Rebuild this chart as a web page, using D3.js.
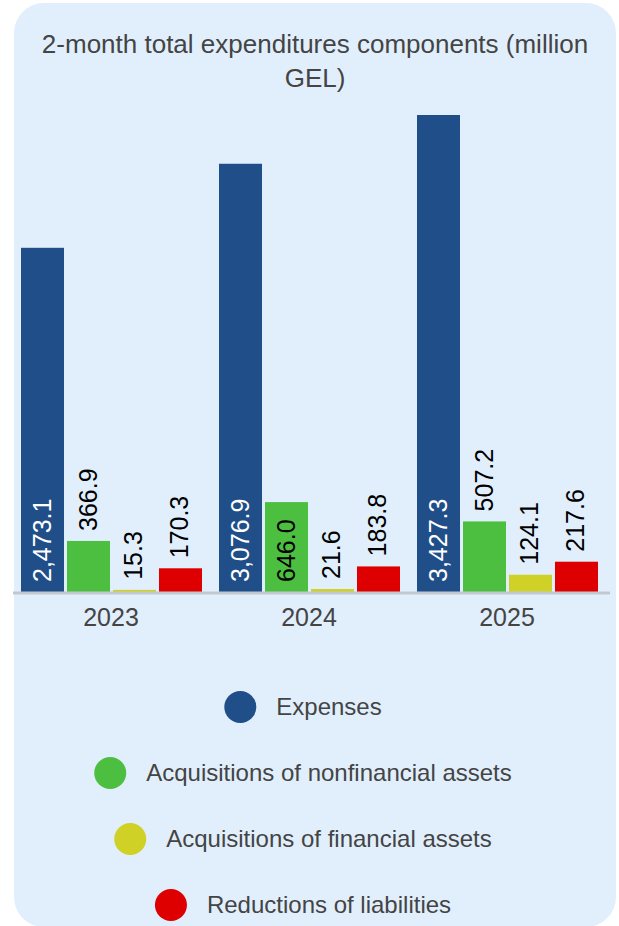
<!DOCTYPE html>
<html>
<head>
<meta charset="utf-8">
<script src="https://cdn.jsdelivr.net/npm/d3@7"></script>
<style>
  html, body { margin: 0; padding: 0; background: #fff; }
  text { font-family: Arial, "Liberation Sans", sans-serif; }
</style>
</head>
<body>
<div class="chart"></div>
<script>
var years = ['2023', '2024', '2025']
var series = ['Expenses', 'Acquisitions of nonfinancial assets', 'Acquisitions of financial assets', 'Reductions of liabilities']
var expenses = [2473.1, 3076.9, 3427.3]
var nonfinancial = [366.9, 646.0, 507.2]
var financial = [15.3, 21.6, 124.1]
var liabilities = [170.3, 183.8, 217.6]
var colors = ['#1f4e89', '#4cbf40', '#cfd126', '#de0000']

var values = [expenses, nonfinancial, financial, liabilities]
var rows = []
years.forEach((y, i) => {
    series.forEach((s, j) => {
        rows.push({ year: y, name: s, value: values[j][i], k: j })
    })
})

var W = 619, H = 926
var svg = d3.select('.chart')
    .append('svg')
    .attr('width', W)
    .attr('height', H)

// panel
svg.append('rect')
    .attr('x', 14).attr('y', 3)
    .attr('width', 602).attr('height', 924)
    .attr('rx', 30)
    .attr('fill', '#e1effd')

// title
var title = svg.append('text')
    .attr('text-anchor', 'middle')
    .attr('fill', '#444')
    .style('font-size', '26px')
title.append('tspan').attr('x', 315).attr('y', 53).text('2-month total expenditures components (million')
title.append('tspan').attr('x', 315).attr('y', 87).text('GEL)')

var base = 592
var x0 = d3.scaleBand().domain(years).range([12, 606])
var x1 = d3.scaleBand().domain(series).range([9, 190]).paddingInner(0.065)
var y = d3.scaleLinear().domain([0, 3427.3]).range([base, 115])

var g = svg.selectAll('g.grp')
    .data(rows)
    .enter()
    .append('g')
    .attr('transform', d => 'translate(' + (x0(d.year) + x1(d.name)) + ',0)')

g.append('rect')
    .attr('y', d => y(d.value))
    .attr('width', x1.bandwidth())
    .attr('height', d => base - y(d.value))
    .attr('fill', d => colors[d.k])

// value labels, rotated
var fmt = d3.format(',.1f')
g.append('text')
    .style('font-size', '25px')
    .attr('dominant-baseline', 'central')
    .text(d => fmt(d.value))
    .each(function (d) {
        var len = this.getComputedTextLength()
        var h = base - y(d.value)
        var inside = len + 20 < h
        var cx = x1.bandwidth() / 2 - 1
        var cy = inside ? base - 10 : y(d.value) - 10
        d3.select(this)
            .attr('transform', 'translate(' + cx + ',' + cy + ') rotate(-90)')
            .attr('fill', inside && d.k == 0 ? '#fff' : '#000')
    })

// axis line
svg.append('line')
    .attr('x1', 13).attr('x2', 610)
    .attr('y1', base + 1).attr('y2', base + 1)
    .attr('stroke', '#c3c8d0')
    .attr('stroke-width', 3)

svg.selectAll('text.year')
    .data(years)
    .enter()
    .append('text')
    .attr('class', 'year')
    .attr('x', d => x0(d) + x0.bandwidth() / 2)
    .attr('y', 626)
    .attr('text-anchor', 'middle')
    .attr('fill', '#444')
    .style('font-size', '25px')
    .text(d => d)

// legend
var leg = svg.selectAll('g.leg')
    .data(series)
    .enter()
    .append('g')
    .attr('class', 'leg')

leg.append('circle')
    .attr('r', 16)
    .attr('cy', 0)
    .attr('fill', (d, i) => colors[i])

leg.append('text')
    .attr('x', 36)
    .attr('dy', '0.35em')
    .attr('fill', '#444')
    .style('font-size', '24px')
    .text(d => d)

leg.each(function (d, i) {
    var len = d3.select(this).select('text').node().getComputedTextLength()
    var total = 36 + len + 16
    var cx = 303 - total / 2 + 16
    d3.select(this).attr('transform', 'translate(' + cx + ',' + (707 + i * 66) + ')')
})
</script>
</body>
</html>
